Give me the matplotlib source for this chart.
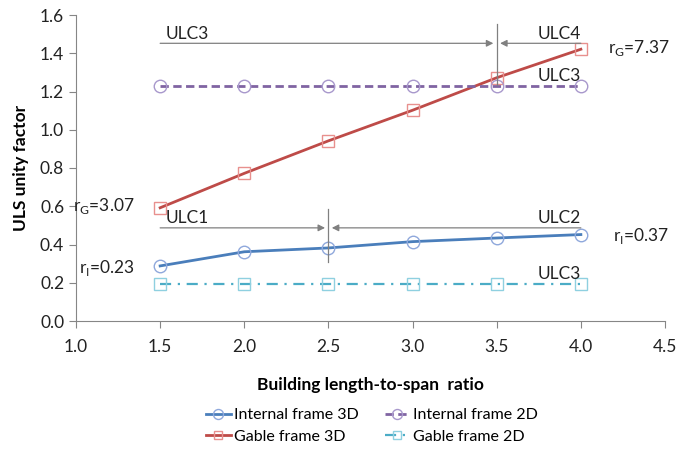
import matplotlib
matplotlib.use("Agg")
from matplotlib import pyplot as plt

plt.rcParams['font.family'] = ['Lato', 'DejaVu Sans']

ratio = [1.5, 2.0, 2.5, 3.0, 3.5, 4.0]
internal_3d = [0.288, 0.362, 0.382, 0.415, 0.434, 0.452]
internal_2d = [1.229, 1.229, 1.229, 1.229, 1.229, 1.229]
gable_3d = [0.592, 0.772, 0.942, 1.102, 1.272, 1.421]
gable_2d = [0.193, 0.193, 0.193, 0.193, 0.193, 0.193]

fig = plt.figure(figsize=(6.78, 4.57), dpi=100)
ax = fig.add_axes([76/678, 1 - 321/457, 589/678, 306/457])

ax.plot(ratio, internal_3d, '-', color='#4a7ebb', lw=2, marker='o', ms=9,
        mfc='none', mec='#8fa8dc', mew=1, label='Internal frame 3D')
ax.plot(ratio, gable_3d, '-', color='#be4b48', lw=2, marker='s', ms=8,
        mfc='none', mec='#e8908e', mew=1, label='Gable frame 3D')
ax.plot(ratio, internal_2d, '--', color='#8064a2', lw=2, marker='o', ms=9,
        mfc='none', mec='#a898cc', mew=1, dashes=(3, 1.6), label='Internal frame 2D')
ax.plot(ratio, gable_2d, '-.', color='#4bacc6', lw=1.6, marker='s', ms=8,
        mfc='none', mec='#8fd0e0', mew=1, dashes=(5, 3, 1, 3), label='Gable frame 2D')

# zone arrows
grey = '#808080'
arr = dict(arrowstyle='-|>', color=grey, lw=0.9, mutation_scale=10, shrinkA=0, shrinkB=0)
ax.annotate('', xy=(3.48, 1.452), xytext=(1.5, 1.452), arrowprops=arr)
ax.annotate('', xy=(3.52, 1.452), xytext=(4.0, 1.452), arrowprops=arr)
ax.plot([3.5, 3.5], [1.555, 1.235], color=grey, lw=0.9)
ax.annotate('', xy=(2.48, 0.487), xytext=(1.5, 0.487), arrowprops=arr)
ax.annotate('', xy=(2.52, 0.487), xytext=(4.0, 0.487), arrowprops=arr)
ax.plot([2.5, 2.5], [0.585, 0.31], color=grey, lw=0.9)

fs = 12.5
tc = '#222222'
ax.text(1.53, 1.46, 'ULC3', fontsize=fs, va='bottom', color=tc)
ax.text(4.0, 1.46, 'ULC4', fontsize=fs, va='bottom', ha='right', color=tc)
ax.text(4.0, 1.28, 'ULC3', fontsize=fs, va='center', ha='right', color=tc)
ax.text(1.53, 0.495, 'ULC1', fontsize=fs, va='bottom', color=tc)
ax.text(4.0, 0.495, 'ULC2', fontsize=fs, va='bottom', ha='right', color=tc)
ax.text(4.0, 0.245, 'ULC3', fontsize=fs, va='center', ha='right', color=tc)
ax.text(1.35, 0.6, r'r$_\mathregular{G}$=3.07', fontsize=fs, va='center', ha='right', color=tc)
ax.text(1.35, 0.275, r'r$_\mathregular{I}$=0.23', fontsize=fs, va='center', ha='right', color=tc)
ax.text(4.16, 1.43, r'r$_\mathregular{G}$=7.37', fontsize=fs, va='center', color=tc)
ax.text(4.19, 0.445, r'r$_\mathregular{I}$=0.37', fontsize=fs, va='center', color=tc)

ax.set_xlim(1.0, 4.5)
ax.set_ylim(0.0, 1.6)
ax.set_xticks([1.0, 1.5, 2.0, 2.5, 3.0, 3.5, 4.0, 4.5])
ax.set_yticks([0.0, 0.2, 0.4, 0.6, 0.8, 1.0, 1.2, 1.4, 1.6])
ax.xaxis.set_major_formatter(matplotlib.ticker.FormatStrFormatter('%.1f'))
ax.yaxis.set_major_formatter(matplotlib.ticker.FormatStrFormatter('%.1f'))
ax.tick_params(direction='out', length=5, color='#868686', labelsize=12.5, labelcolor=tc)
ax.tick_params(axis='x', pad=8)
for s in ['top', 'right']:
    ax.spines[s].set_visible(False)
for s in ['left', 'bottom']:
    ax.spines[s].set_color('#868686')

ax.set_xlabel('Building length-to-span  ratio', fontsize=12.5, fontweight='bold', labelpad=16)
ax.set_ylabel('ULS unity factor', fontsize=12.5, fontweight='bold', labelpad=8)

fig.legend(loc='center', bbox_to_anchor=(372/678, 1 - 426/457), ncol=2, frameon=False,
           fontsize=11.5, handlelength=1.6, handletextpad=0.2, columnspacing=1.6,
           labelspacing=0.45, markerscale=0.8)

fig.savefig('out.png', dpi=100)
